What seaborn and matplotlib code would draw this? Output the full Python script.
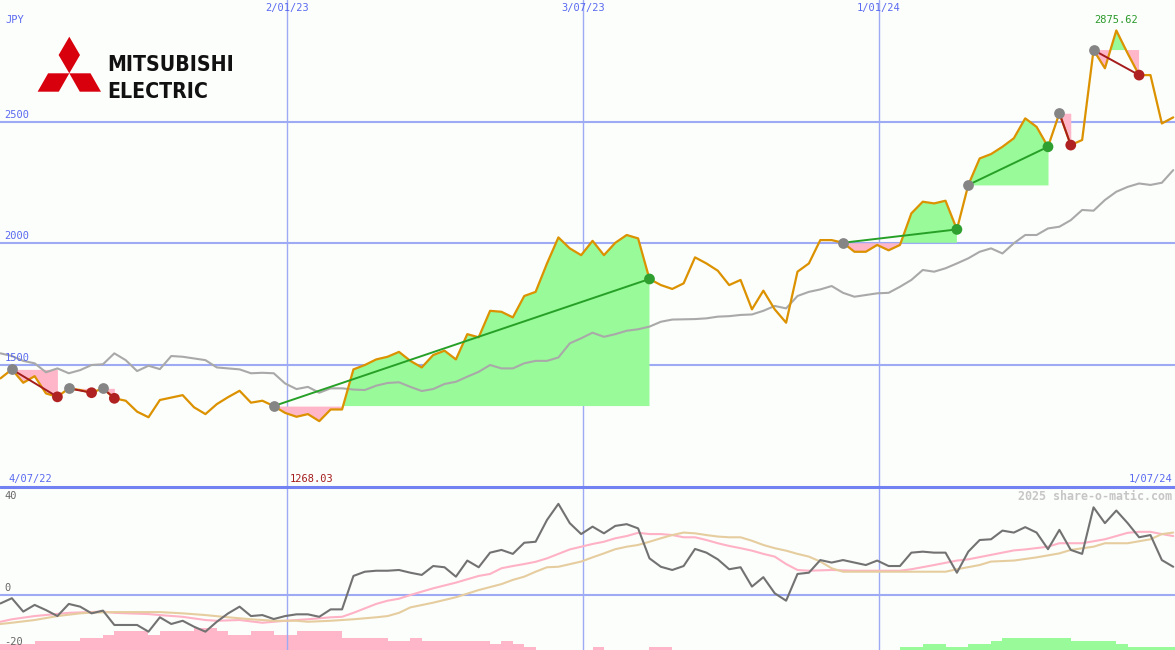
import numpy as np
import pandas as pd
import seaborn as sns
import matplotlib.pyplot as plt
from matplotlib import font_manager as fm
from matplotlib.patches import Polygon

# weekly close (JPY)
price = [
    1444, 1481, 1426, 1453, 1382, 1368, 1403, 1396, 1385, 1403,
    1362, 1352, 1307, 1284, 1355, 1365, 1375, 1325, 1297, 1338,
    1367, 1393, 1344, 1352, 1330, 1302, 1286, 1297, 1268.03, 1316,
    1316, 1481, 1499, 1522, 1533, 1553, 1516, 1489, 1540, 1558,
    1522, 1626, 1613, 1722, 1718, 1695, 1783, 1800, 1917, 2024,
    1979, 1951, 2010, 1951, 2002, 2034, 2020, 1853, 1828, 1812,
    1835, 1942, 1917, 1887, 1828, 1849, 1728, 1805, 1728, 1673,
    1883, 1917, 2013, 2013, 2002, 1965, 1965, 1993, 1971, 1993,
    2123, 2171, 2164, 2175, 2057, 2240, 2349, 2367, 2397, 2432,
    2514, 2479, 2397, 2535, 2404, 2425, 2795, 2720, 2875.62, 2781,
    2692, 2692, 2493, 2518,
]
# grey average line
avg = [
    1547, 1536, 1516, 1506, 1469, 1485, 1465, 1478, 1499, 1502,
    1547, 1519, 1474, 1496, 1482, 1536, 1533, 1526, 1519, 1489,
    1485, 1481, 1465, 1467, 1465, 1423, 1400, 1409, 1385, 1403,
    1403, 1398, 1396, 1414, 1425, 1428, 1409, 1392, 1400, 1421,
    1430, 1451, 1471, 1499, 1485, 1485, 1506, 1516, 1516, 1530,
    1588, 1609, 1632, 1615, 1626, 1640, 1646, 1657, 1677, 1686,
    1687, 1688, 1691, 1698, 1700, 1705, 1707, 1722, 1742, 1732,
    1783, 1800, 1810, 1824, 1796, 1780, 1787, 1794, 1796, 1821,
    1849, 1890, 1883, 1897, 1917, 1938, 1965, 1979, 1958, 2000,
    2034, 2034, 2061, 2068, 2095, 2137, 2134, 2178, 2212, 2232,
    2246, 2240, 2249, 2301,
]
# lower panel oscillator
osc = [
    -3.4, -1.3, -6.7, -4.0, -6.1, -8.5, -3.6, -4.7, -7.4, -6.3,
    -12.1, -12.1, -12.1, -14.8, -9.0, -11.7, -10.4, -12.8, -14.8, -10.8,
    -7.4, -4.7, -8.5, -8.1, -9.7, -8.5, -7.8, -7.8, -8.8, -5.8,
    -5.8, 7.7, 9.4, 9.8, 9.8, 10.1, 9.0, 8.1, 11.7, 11.2,
    7.4, 13.9, 11.2, 17.1, 18.2, 16.6, 21.1, 21.5, 30.3, 36.8,
    29.0, 24.6, 27.6, 24.9, 27.9, 28.6, 26.9, 14.8, 11.4, 10.1,
    11.7, 18.6, 17.1, 14.4, 10.4, 11.2, 3.4, 7.2, 0.7, -2.3,
    8.5, 9.0, 14.1, 13.1, 14.1, 13.1, 12.1, 13.9, 11.7, 11.7,
    17.1, 17.5, 17.1, 17.1, 9.0, 17.5, 22.2, 22.5, 26.0, 25.2,
    27.4, 25.2, 18.5, 26.3, 18.2, 16.6, 35.4, 29.0, 34.1, 29.0,
    23.3, 24.2, 14.1, 11.4,
]
pink_weeks = [0, 1, 3, 6, 9, 10, 13, 14, 16, 18, 19, 21, 23, 25, 27, 29, 30, 31, 32, 33,
              34, 35, 36, 38, 40, 42, 43, 44, 45, 46, 47, 48, 49, 50, 51, 52, 53, 54, 55, 56,
              57, 58, 59, 60, 61, 62, 63, 64, 65, 66, 67, 68, 69, 70, 71, 73, 75, 77, 79, 80,
              82, 84, 85, 87, 89, 90, 92, 93, 95, 97, 98, 99, 100, 101, 102, 103]
pink_vals = [-10.8, -9.8, -8.5, -7.2, -6.7, -7.2, -7.7, -8.1, -8.8, -10.1, -10.4, -10.1, -11.2, -10.4, -9.8, -9.0, -8.8, -7.2, -5.4, -3.6,
             -2.3, -1.5, 0, 2.7, 5.0, 7.7, 8.5, 10.8, 11.7, 12.5, 13.4, 14.8, 16.6, 18.4, 19.5, 20.6, 21.5, 22.9, 23.8, 25.1,
             24.6, 24.6, 24.2, 23.3, 23.3, 22.2, 20.9, 19.8, 18.9, 17.9, 16.6, 15.5, 12.5, 10.1, 9.8, 10.1, 9.8, 9.8, 9.8, 10.4,
             12.1, 13.9, 14.4, 16.2, 18.0, 18.4, 19.5, 20.9, 20.9, 22.5, 23.8, 25.1, 25.5, 25.5, 24.6, 23.8]
tan_weeks = [0, 1, 3, 5, 7, 8, 10, 12, 14, 16, 18, 20, 22, 24, 26, 27, 29, 31, 33, 34,
             35, 36, 38, 40, 42, 44, 45, 46, 47, 48, 49, 51, 52, 53, 54, 55, 56, 57, 58, 59,
             60, 61, 62, 63, 64, 65, 66, 67, 68, 69, 70, 71, 72, 73, 74, 76, 79, 81, 83, 84,
             86, 87, 89, 91, 93, 94, 96, 97, 99, 101, 102, 103]
tan_vals = [-11.7, -11.2, -10.1, -8.5, -7.4, -7.1, -6.9, -6.9, -6.9, -7.4, -8.1, -9.0, -9.8, -10.4, -10.4, -10.8, -10.4, -9.8, -9.0, -8.5,
            -7.2, -5.0, -3.1, -0.9, 2.0, 4.4, 6.1, 7.4, 9.4, 11.2, 11.4, 13.5, 15.2, 16.8, 18.5, 19.5, 20.2, 21.5, 22.9, 24.2,
            25.2, 24.9, 24.2, 23.6, 23.3, 23.3, 21.9, 20.2, 18.9, 17.9, 16.6, 15.5, 13.5, 10.8, 9.4, 9.4, 9.4, 9.4, 9.4, 10.4,
            12.1, 13.5, 13.9, 15.2, 16.8, 18.2, 19.5, 20.9, 20.9, 22.5, 24.6, 25.2]
# blocks at the bottom (negative = pink, positive = green)
bars = [
    -2, -2, -2, -3, -3, -3, -3, -4, -4, -5,
    -6, -6, -6, -5, -6, -6, -6, -7, -7, -6,
    -5, -5, -6, -6, -5, -5, -6, -6, -6, -6,
    -4, -4, -4, -4, -3, -3, -4, -3, -3, -3,
    -3, -3, -3, -2, -3, -2, -1, 0, 0, 0,
    0, 0, -1, 0, 0, 0, 0, -1, -1, 0,
    0, 0, 0, 0, 0, 0, 0, 0, 0, 0,
    0, 0, 0, 0, 0, 0, 0, 0, 0, 1,
    1, 2, 2, 1, 1, 2, 2, 3, 4, 4,
    4, 4, 4, 4, 3, 3, 3, 3, 2, 1,
    1, 1, 1, 1,
]
# (start week, end week) of each trend segment
trends = [(1, 5), (6, 8), (9, 10), (24, 57), (74, 84), (85, 92), (93, 94), (96, 100)]
grid_prices = [1500, 2000, 2500]
grid_dates = ["2023-01-02", "2023-07-03", "2024-01-01"]
grid_labels = ["2/01/23", "3/07/23", "1/01/24"]

weeks = pd.date_range("2022-07-10", periods=len(price), freq="7D")
df = pd.DataFrame({"week": weeks, "price": price, "avg": avg, "osc": osc})

sns.set_theme(style="white")
plt.rcParams["font.family"] = ["DejaVu Sans Mono"]

bg = "#fcfefb"
blue = "#5a6af0"
grid = "#9eaaf4"
up_fill, dn_fill = "#98fa98", "#ffb6c8"
up_col, dn_col = "#27a027", "#a51c1c"

fig = plt.figure(figsize=(11.75, 6.5), dpi=100, facecolor=bg)
ax = fig.add_axes([0, 163 / 650, 1, 487 / 650])
bar_ax = fig.add_axes([0, 0, 1, 163 / 650])
low = fig.add_axes([0, 0, 1, 163 / 650])
xlim = (pd.Timestamp("2022-07-09 17:00"), pd.Timestamp("2024-07-01 02:00"))

# grid
for p in grid_prices:
    ax.axhline(p, color=grid, lw=1.5, zorder=0)
for d in grid_dates:
    ax.axvline(pd.Timestamp(d), color=grid, lw=1.0, zorder=0)
    low.axvline(pd.Timestamp(d), color=grid, lw=1.0, zorder=0)
low.axhline(0, color=grid, lw=1.5, zorder=0)

# trend fills
for s, e in trends:
    xs = weeks[s:e + 1]
    ys = np.array(price[s:e + 1])
    lvl = ys[0]
    ax.fill_between(xs, ys, lvl, where=ys >= lvl, interpolate=True, color=up_fill, lw=0, zorder=1)
    ax.fill_between(xs, ys, lvl, where=ys <= lvl, interpolate=True, color=dn_fill, lw=0, zorder=1)

sns.lineplot(data=df, x="week", y="avg", ax=ax, color="#a9a9a9", lw=1.5, zorder=2)
sns.lineplot(data=df, x="week", y="price", ax=ax, color="#dc9200", lw=1.6, zorder=3)

# trend lines + markers
for s, e in trends:
    c = up_col if price[e] > price[s] else dn_col
    ax.plot([weeks[s], weeks[e]], [price[s], price[e]], color=c, lw=1.4, zorder=4)
starts = df.iloc[[s for s, e in trends]]
ends = df.iloc[[e for s, e in trends]].copy()
ends["dir"] = ["up" if price[e] > price[s] else "down" for s, e in trends]
sns.scatterplot(data=starts, x="week", y="price", ax=ax, color="#858585", s=60, linewidth=0, zorder=5)
sns.scatterplot(data=ends, x="week", y="price", hue="dir", ax=ax, s=60, linewidth=0, zorder=5,
                palette={"up": "#2f9f2f", "down": "#b02222"}, legend=False)

# lower panel
bar_ax.bar(weeks, np.abs(bars), width=7, align="edge", lw=0,
           color=[up_fill if b > 0 else dn_fill for b in bars])
sns.lineplot(x=weeks[pink_weeks], y=pink_vals, ax=low, color="#ffb2c6", lw=1.5)
sns.lineplot(x=weeks[tan_weeks], y=tan_vals, ax=low, color="#e6cd9f", lw=1.5)
sns.lineplot(data=df, x="week", y="osc", ax=low, color="#727272", lw=1.5)

for a in (ax, bar_ax, low):
    a.set_xlim(*xlim)
    a.set_axis_off()
ax.set_ylim(997, 3001)
low.set_ylim(-22.2, 43.6)
bar_ax.set_ylim(0, 52.6)

# labels
ty = ax.get_yaxis_transform()
for p in grid_prices:
    ax.text(0.004, p + 8, str(p), transform=ty, color=blue, fontsize=7.5, va="bottom")
tx = ax.get_xaxis_transform()
for d, lab in zip(grid_dates, grid_labels):
    ax.text(pd.Timestamp(d), 0.993, lab, transform=tx, color=blue, fontsize=7.5, ha="center", va="top")
hi = int(np.argmax(price))
ax.text(weeks[hi], 0.959, f"{price[hi]:.2f}", transform=tx, color="#2a9a2a", fontsize=7.5,
        ha="center", va="center")
ly = low.get_yaxis_transform()
low.text(0.004, 40, "40", transform=ly, color="#666666", fontsize=7.5, va="center")
low.text(0.004, 1, "0", transform=ly, color="#666666", fontsize=7.5, va="bottom")
low.text(0.004, -19, "-20", transform=ly, color="#666666", fontsize=7.5, va="center")

ov = fig.add_axes([0, 0, 1, 1])
ov.set_xlim(0, 1175)
ov.set_ylim(650, 0)
ov.set_axis_off()
ov.axhline(487, color="#7282f2", lw=2.2)
ov.text(5, 20, "JPY", color=blue, fontsize=7.5, va="center")
ov.text(8, 479, "4/07/22", color=blue, fontsize=7.5, va="center")
ov.text(1172, 479, "1/07/24", color=blue, fontsize=7.5, va="center", ha="right")
ov.text(290, 479, f"{min(price):.2f}", color=dn_col, fontsize=7.5, va="center")
ov.text(1172, 496, "2025 share-o-matic.com", color="#c6c6c6", fontsize=8.4, fontweight="bold",
        va="center", ha="right")

# logo
red = "#d9000d"
for pts in ([(69.3, 73.3), (80, 55), (69.3, 36.7), (58.6, 55)],
            [(69.3, 73.3), (90.5, 73.3), (101, 91.7), (79.8, 91.7)],
            [(69.3, 73.3), (48.1, 73.3), (37.6, 91.7), (58.8, 91.7)]):
    ov.add_patch(Polygon(pts, closed=True, color=red, lw=0))

# prefer a narrow bold face for the wordmark, else a compact bold sans
narrow = [f for f in fm.fontManager.ttflist
          if f.style == "normal" and str(f.weight) in ("bold", "700")
          and ("Narrow" in f.name or "Condensed" in f.name
               or str(f.stretch) in ("condensed", "semi-condensed"))]
narrow.sort(key=lambda f: "Liberation" not in f.name)
if narrow:
    logo_prop = fm.FontProperties(fname=narrow[0].fname)
else:
    logo_prop = fm.FontProperties(family=["Roboto", "Liberation Sans"], weight="bold")
logo = ov.text(107, 53, "MITSUBISHI\nELECTRIC", fontproperties=logo_prop, color="#111111",
               va="top", ha="left")
logo.set_fontsize(20)
fig.canvas.draw()
size = 20 * 126 / logo.get_window_extent().width
em = size * 100 / 72
cap = 0.72 * em
logo.set_fontsize(size)
logo.set_linespacing(22 / (0.73 * em))
logo.set_y(53 + max(0, (20 - cap) / 2))

fig.savefig("out.png", dpi=100, facecolor=bg)
